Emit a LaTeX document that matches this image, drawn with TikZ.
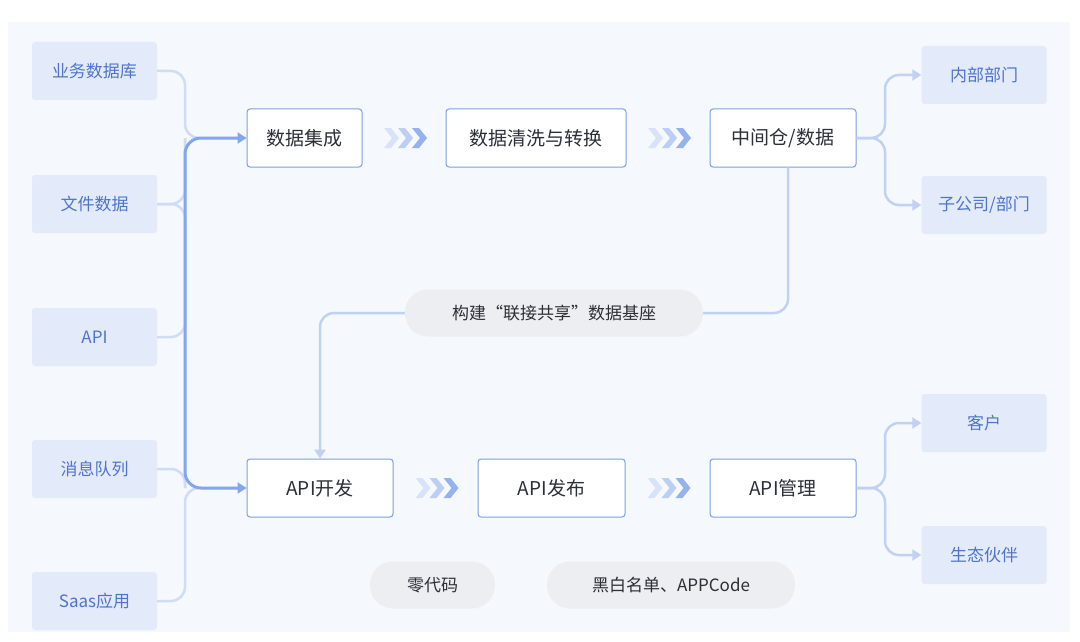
\documentclass[tikz,border=0pt]{standalone}
\usepackage{fontspec}
\setmainfont{Noto Sans CJK SC}
\usetikzlibrary{arrows.meta,positioning}
\definecolor{bgc}{HTML}{F5F8FC}
\definecolor{srcfill}{HTML}{E3EBFA}
\definecolor{srctext}{HTML}{4F74CF}
\definecolor{boxline}{HTML}{7D9FE6}
\definecolor{lightln}{HTML}{CFDCF6}
\definecolor{strongln}{HTML}{84A6EC}
\definecolor{pillfill}{HTML}{ECEEF2}
\definecolor{darktext}{HTML}{2B2F36}
\tikzset{
    src/.style={fill=srcfill,rounded corners=3pt,minimum width=125pt,minimum height=58pt,text=srctext,font=\fontsize{17}{17}\selectfont},
    stage/.style={draw=boxline,line width=1pt,fill=white,rounded corners=3pt,minimum height=58pt,text=darktext,font=\fontsize{19}{19}\selectfont},
    pill/.style={fill=pillfill,rounded corners=23pt,minimum height=47pt,text=darktext,font=\fontsize{17}{17}\selectfont},
    thin/.style={draw=lightln,line width=2.5pt,rounded corners=14pt},
    thick/.style={draw=strongln,line width=3pt,rounded corners=16pt},
    tip/.style={-{Triangle[length=9pt,width=11pt]}},
}
\newcommand{\chevrons}[1]{%
    \foreach \k/\op in {0/0.25,1/0.5,2/0.85}{
        \fill[strongln,opacity=\op] ($(#1)+(\k*14pt-14pt,0)$) ++(-6pt,10pt) -- ++(7pt,0) -- ++(8pt,-10pt) -- ++(-8pt,-10pt) -- ++(-7pt,0) -- ++(8pt,10pt) -- cycle;
    }}
\usetikzlibrary{calc}
\begin{document}
\begin{tikzpicture}[x=1pt,y=-1pt]
    \useasboundingbox (0,0) rectangle (1080,642);
    \fill[bgc] (8,22) rectangle (1070,632);
    % sources
    \node[src](db)   at (94.5,71)  {业务数据库};
    \node[src](file) at (94.5,204) {文件数据};
    \node[src](api)  at (94.5,337) {API};
    \node[src](mq)   at (94.5,469) {消息队列};
    \node[src](saas) at (94.5,601) {Saas应用};
    % stages
    \node[stage,minimum width=115pt](integ) at (304.5,138) {数据集成};
    \node[stage,minimum width=180pt](clean) at (536,138) {数据清洗与转换};
    \node[stage,minimum width=146pt](mid)   at (783,138) {中间仓/数据};
    \node[stage,minimum width=146pt](dev)   at (320,488) {API开发};
    \node[stage,minimum width=147pt](pub)   at (551.5,488) {API发布};
    \node[stage,minimum width=146pt](mgr)   at (783,488) {API管理};
    % targets
    \node[src](dept) at (984,75)  {内部部门};
    \node[src](sub)  at (984,205) {子公司/部门};
    \node[src](cust) at (984,423) {客户};
    \node[src](eco)  at (984,555) {生态伙伴};
    % pills
    \node[pill,minimum width=298pt](base) at (554,313) {构建“联接共享”数据基座};
    \node[pill,minimum width=125pt](zero) at (432.5,585) {零代码};
    \node[pill,minimum width=248pt](list) at (671,585) {黑白名单、APPCode};
    % feeds into the trunk
    \path[thin] (db.east) -- (185,71) -- (185,138) -- (integ.west);
    \path[thin] (file.east) -| (185,138);
    \path[thin] (file.east) -| (185,488);
    \path[thin] (api.east) -| (185,138);
    \path[thin] (mq.east) -| (185,488);
    \path[thin] (saas.east) -- (185,601) -- (185,488) -- (dev.west);
    \path[thick,tip] (185,300) -- (185,138) -- (integ.west);
    \path[thick,tip] (185,300) -- (185,488) -- (dev.west);
    % outputs
    \path[thin,draw=lightln!80!strongln,tip] (mid.east) -- (885,138) |- (dept.west);
    \path[thin,draw=lightln!80!strongln,tip] (mid.east) -- (885,138) |- (sub.west);
    \path[thin,draw=lightln!80!strongln,tip] (mgr.east) -- (885,488) |- (cust.west);
    \path[thin,draw=lightln!80!strongln,tip] (mgr.east) -- (885,488) |- (eco.west);
    \path[thin,draw=lightln!80!strongln] (mid.south -| 788,0) |- (base.east);
    \path[thin,draw=lightln!80!strongln,tip] (base.west) -| (dev.north);
    % chevrons
    \chevrons{$(integ.east)!0.5!(clean.west)$}
    \chevrons{$(clean.east)!0.5!(mid.west)$}
    \chevrons{$(dev.east)!0.5!(pub.west)$}
    \chevrons{$(pub.east)!0.5!(mgr.west)$}
\end{tikzpicture}
\end{document}
